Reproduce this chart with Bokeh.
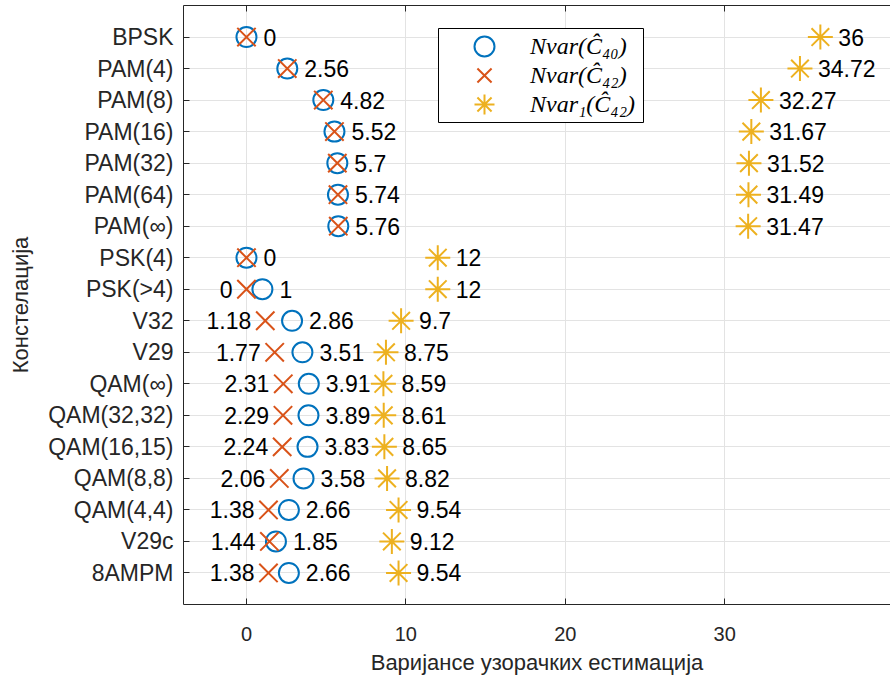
from bokeh.plotting import figure
from bokeh.models import (ColumnDataSource, FactorRange, Range1d, FixedTicker,
                          LinearAxis, Legend, LegendItem, BoxAnnotation)
from bokeh.core.properties import value
from bokeh.embed import file_html
from bokeh.resources import INLINE

# ---------------- data ----------------
constellations = ["BPSK", "PAM(4)", "PAM(8)", "PAM(16)", "PAM(32)", "PAM(64)",
                  "PAM(∞)", "PSK(4)", "PSK(>4)", "V32", "V29", "QAM(∞)",
                  "QAM(32,32)", "QAM(16,15)", "QAM(8,8)", "QAM(4,4)", "V29c", "8AMPM"]
nvar_c40 = [0, 2.56, 4.82, 5.52, 5.7, 5.74, 5.76, 0, 1, 2.86, 3.51, 3.91,
            3.89, 3.83, 3.58, 2.66, 1.85, 2.66]
nvar_c42 = [0, 2.56, 4.82, 5.52, 5.7, 5.74, 5.76, 0, 0, 1.18, 1.77, 2.31,
            2.29, 2.24, 2.06, 1.38, 1.44, 1.38]
nvar1_c42 = [36, 34.72, 32.27, 31.67, 31.52, 31.49, 31.47, 12, 12, 9.7, 8.75,
             8.59, 8.61, 8.65, 8.82, 9.54, 9.12, 9.54]
x_ticks = [0, 10, 20, 30]
legend_labels = ["Nvar(Ĉ₄₀)", "Nvar(Ĉ₄₂)", "Nvar₁(Ĉ₄₂)"]
x_label = "Варијансе узорачких естимација"
y_label = "Констелација"

BLUE, ORANGE, YELLOW = "#0072BD", "#D95319", "#EDB120"
AX = "#262626"
FONT = "Liberation Sans"


def fmt(v):
    return f"{v:g}"


src = ColumnDataSource(dict(
    name=constellations,
    c40=nvar_c40, c42=nvar_c42, s42=nvar1_c42,
    c40_lbl=[fmt(v) for v in nvar_c40],
    s42_lbl=[fmt(v) for v in nvar1_c42],
))
# labels for C42 only where the cross is separated from the circle
idx = [i for i in range(len(constellations)) if nvar_c42[i] != nvar_c40[i]]
src42 = ColumnDataSource(dict(
    name=[constellations[i] for i in idx],
    c42=[nvar_c42[i] for i in idx],
    lbl=[fmt(nvar_c42[i]) for i in idx],
))

p = figure(width=890, height=684,
           x_range=Range1d(-3.95, 40.4),
           y_range=FactorRange(factors=list(reversed(constellations)),
                               range_padding=0.5, range_padding_units="absolute"),
           output_backend="svg", toolbar_location=None,
           min_border_left=183, min_border_right=0,
           min_border_top=5, min_border_bottom=80)
p.outline_line_color = None
p.background_fill_color = "white"
p.border_fill_color = "white"

ticker = FixedTicker(ticks=x_ticks)
p.xaxis.ticker = ticker
for ax in (p.xaxis[0], p.yaxis[0]):
    ax.axis_line_color = AX
    ax.major_tick_line_color = AX
    ax.major_tick_in = 6
    ax.major_tick_out = 0
    ax.minor_tick_line_color = None
    ax.major_label_text_font = FONT
    ax.major_label_text_color = AX
    ax.axis_label_text_font = FONT
    ax.axis_label_text_color = AX
    ax.axis_label_text_font_style = "normal"
    ax.axis_label_text_font_size = "22px"

p.xaxis.major_label_text_font_size = "20px"
p.xaxis.major_label_standoff = 22
p.xaxis.axis_label = x_label
p.xaxis.axis_label_standoff = 6
p.yaxis.major_label_text_font_size = "23px"
p.yaxis.major_label_standoff = 10
p.yaxis.axis_label = y_label
p.yaxis.axis_label_standoff = 12

# top box edge with inward ticks (no labels drawn)
top = LinearAxis(ticker=ticker, axis_line_color=AX, major_tick_line_color=AX,
                 major_tick_in=6, major_tick_out=0, minor_tick_line_color=None,
                 major_label_text_color=None, major_label_text_font_size="1px",
                 major_label_standoff=0)
p.add_layout(top, "above")

p.xgrid.grid_line_color = "#e3e3e3"
p.ygrid.grid_line_color = "#e3e3e3"

r40 = p.scatter(x="c40", y="name", source=src, marker="circle", size=20,
                fill_color=None, line_color=BLUE, line_width=2)
r42 = p.scatter(x="c42", y="name", source=src, marker="x", size=26,
                line_color=ORANGE, line_width=2)
r1 = p.scatter(x="s42", y="name", source=src, marker="asterisk", size=25,
               line_color=YELLOW, line_width=2)

txt = dict(text_font=value(FONT), text_font_size="23px", text_color="black",
           text_baseline="middle")
p.text(x="c40", y="name", text="c40_lbl", source=src, x_offset=17,
       text_align="left", **txt)
p.text(x="s42", y="name", text="s42_lbl", source=src, x_offset=18,
       text_align="left", **txt)
p.text(x="c42", y="name", text="lbl", source=src42, x_offset=-14,
       text_align="right", **txt)

# legend frame (screen units relative to the plot frame, y upwards)
frame = BoxAnnotation(left=255, right=460, top=576, bottom=482,
                      left_units="screen", right_units="screen",
                      top_units="screen", bottom_units="screen",
                      fill_color="white", fill_alpha=1.0,
                      line_color="black", line_alpha=1.0, line_width=1)
p.add_layout(frame)

# one single-entry legend per row so that the sample markers keep full size
for i, (lab, r) in enumerate(zip(legend_labels, [r40, r42, r1])):
    lg = Legend(items=[LegendItem(label=lab, renderers=[r])],
                location=(255, 533 - 29 * i),
                glyph_width=92, glyph_height=50, padding=0, margin=0,
                label_standoff=0,
                label_text_font="Liberation Serif",
                label_text_font_style="italic",
                label_text_font_size="24px",
                label_text_color="black",
                border_line_color=None, background_fill_alpha=0.0)
    p.add_layout(lg, "center")

open("out.html", "w").write(file_html(p, INLINE))
